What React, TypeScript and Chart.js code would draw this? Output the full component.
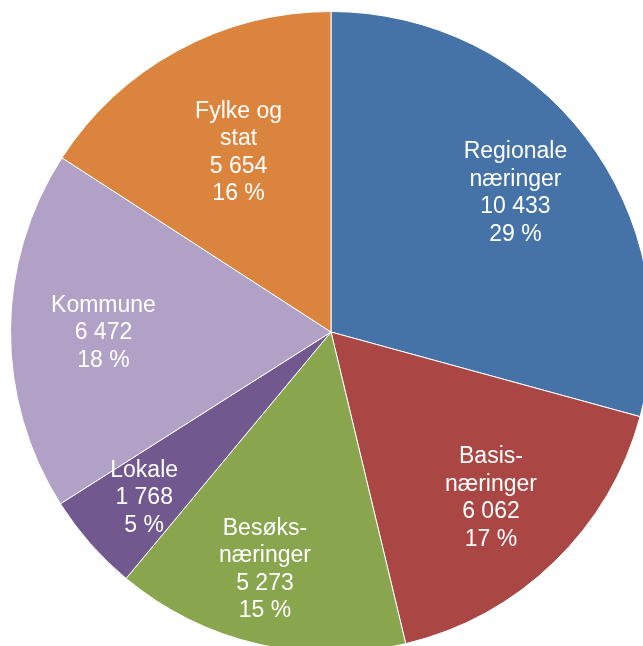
import React, { useEffect, useRef } from "react";
import { Chart, registerables } from "chart.js";

Chart.register(...registerables);

const categories: string[][] = [
  ["Regionale", "næringer"],
  ["Basis-", "næringer"],
  ["Besøks-", "næringer"],
  ["Lokale"],
  ["Kommune"],
  ["Fylke og", "stat"],
];
const values: number[] = [10433, 6062, 5273, 1768, 6472, 5654];
const colors: string[] = ["#4572A7", "#AA4643", "#89A54E", "#71588F", "#B2A1C7", "#DB843D"];
// label placement: fraction of radius from centre, and angle nudge in degrees
const labelRadius: number[] = [0.72, 0.72, 0.77, 0.78, 0.71, 0.63];
const labelAngleShift: number[] = [0.4, 0.2, 2.4, -0.3, -0.5, 1.3];

function fmt(n: number): string {
  return String(n).replace(/\B(?=(\d{3})+(?!\d))/g, " ");
}

const labelPlugin = {
  id: "sliceLabels",
  afterDatasetsDraw(chart: any) {
    const ctx = chart.ctx;
    const meta = chart.getDatasetMeta(0);
    const total = values.reduce((a, b) => a + b, 0);
    ctx.save();
    ctx.fillStyle = "#ffffff";
    ctx.font = "23px 'Liberation Sans', Arial, sans-serif";
    ctx.textAlign = "center";
    ctx.textBaseline = "middle";
    const lh = 27.5;
    meta.data.forEach((arc: any, i: number) => {
      const { x, y, startAngle, endAngle, outerRadius } = arc.getProps(
        ["x", "y", "startAngle", "endAngle", "outerRadius"],
        true
      );
      const mid = (startAngle + endAngle) / 2 + (labelAngleShift[i] * Math.PI) / 180;
      const r = outerRadius * labelRadius[i];
      const cx = x + Math.cos(mid) * r;
      const cy = y + Math.sin(mid) * r;
      const lines = [...categories[i], fmt(values[i]), Math.round((values[i] / total) * 100) + " %"];
      const startY = cy - ((lines.length - 1) * lh) / 2;
      lines.forEach((t, j) => ctx.fillText(t, cx, startY + j * lh));
    });
    ctx.restore();
  },
};

export default function App() {
  const ref = useRef<HTMLCanvasElement | null>(null);
  useEffect(() => {
    if (!ref.current) return;
    const chart = new Chart(ref.current, {
      type: "pie",
      data: {
        labels: categories.map((c) => c.join(" ")),
        datasets: [
          {
            data: values,
            backgroundColor: colors,
            borderColor: "#ffffff",
            borderWidth: 1,
            hoverOffset: 0,
          },
        ],
      },
      options: {
        responsive: false,
        animation: false,
        layout: { padding: 0 },
        plugins: {
          legend: { display: false },
          tooltip: { enabled: false },
        },
      },
      plugins: [labelPlugin],
    });
    return () => chart.destroy();
  }, []);
  return (
    <div
      style={{
        position: "fixed",
        left: 0,
        top: 0,
        width: 643,
        height: 646,
        overflow: "hidden",
        background: "#ffffff",
      }}
    >
      <canvas
        ref={ref}
        width={642}
        height={642}
        style={{ position: "absolute", left: 10, top: 11, width: 642, height: 642 }}
      />
    </div>
  );
}
